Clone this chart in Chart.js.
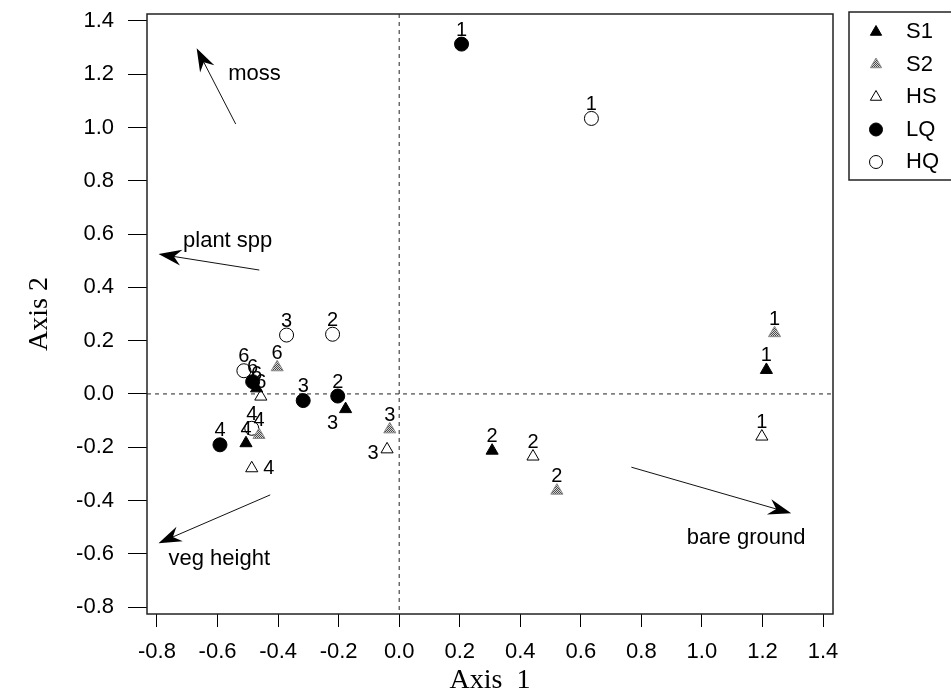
<!DOCTYPE html>
<html>
<head>
<meta charset="utf-8">
<script src="https://cdn.jsdelivr.net/npm/chart.js@4/dist/chart.umd.min.js"></script>
<style>
  body { margin: 0; background: #fff; }
  #wrap { width: 951px; height: 697px; }
</style>
</head>
<body>
<div id="wrap"><canvas id="ordination" width="951" height="697"></canvas></div>
<script>
// ordination scores (axis 1, axis 2), site number per point
const seriesNames = ['S1', 'S2', 'HS', 'LQ', 'HQ'];

const s1X = [1.213, 0.307, -0.177, -0.506, -0.471];
const s1Y = [0.090, -0.213, -0.057, -0.185, 0.021];
const s1Site = ['1', '2', '3', '4', '6'];
const s1Pos = ['above', 'above', 'belowleft', 'above', 'above'];

const s2X = [1.240, 0.521, -0.031, -0.463, -0.403];
const s2Y = [0.228, -0.363, -0.133, -0.154, 0.100];
const s2Site = ['1', '2', '3', '4', '6'];
const s2Pos = ['above', 'above', 'above', 'above', 'above'];

const hsX = [1.198, 0.442, -0.040, -0.487, -0.457];
const hsY = [-0.160, -0.235, -0.208, -0.279, -0.010];
const hsSite = ['1', '2', '3', '4', '6'];
const hsPos = ['above', 'above', 'left', 'right', 'above'];

const lqX = [0.206, -0.203, -0.317, -0.592, -0.484];
const lqY = [1.313, -0.008, -0.025, -0.191, 0.046];
const lqSite = ['1', '2', '3', '4', '6'];
const lqPos = ['above', 'above', 'above', 'above', 'above'];

const hqX = [0.635, -0.220, -0.372, -0.487, -0.513];
const hqY = [1.034, 0.224, 0.221, -0.129, 0.087];
const hqSite = ['1', '2', '3', '4', '6'];
const hqPos = ['above', 'above', 'above', 'above', 'above'];

// environmental vectors (biplot arrows)
const arrowNames = ['moss', 'plant spp', 'veg height', 'bare ground'];
const arrowFromX = [-0.540, -0.462, -0.426, 0.767];
const arrowFromY = [1.013, 0.465, -0.379, -0.275];
const arrowToX = [-0.669, -0.795, -0.795, 1.295];
const arrowToY = [1.297, 0.525, -0.560, -0.448];
const arrowTextX = [-0.565, -0.714, -0.762, 0.950];
const arrowTextY = [1.201, 0.575, -0.619, -0.542];

const xTicks = [-0.8, -0.6, -0.4, -0.2, 0.0, 0.2, 0.4, 0.6, 0.8, 1.0, 1.2, 1.4];
const yTicks = [-0.8, -0.6, -0.4, -0.2, 0.0, 0.2, 0.4, 0.6, 0.8, 1.0, 1.2, 1.4];

const SANS = '"Liberation Sans", Arial, Helvetica, sans-serif';
const SERIF = '"Liberation Serif", "Times New Roman", serif';

const canvas = document.getElementById('ordination');
const ctx0 = canvas.getContext('2d');

// grey stipple for the S2 triangles
function stipple() {
    var c = document.createElement('canvas');
    c.width = 2; c.height = 2;
    var g = c.getContext('2d');
    g.fillStyle = '#d4d4d4';
    g.fillRect(0, 0, 2, 2);
    g.fillStyle = '#4a4a4a';
    g.fillRect(0, 0, 1, 1);
    g.fillRect(1, 1, 1, 1);
    return ctx0.createPattern(c, 'repeat');
}
const s2Fill = stipple();

function pts(xs, ys) {
    return xs.map((x, i) => ({ x: x, y: ys[i] }));
}

const styles = [
    { shape: 'triangle', fill: '#000', stroke: '#000' },
    { shape: 'triangle', fill: s2Fill, stroke: '#8a8a8a' },
    { shape: 'triangle', fill: '#fff', stroke: '#000' },
    { shape: 'circle', fill: '#000', stroke: '#000' },
    { shape: 'circle', fill: '#fff', stroke: '#000' },
];

const raw = [
    [s1X, s1Y, s1Site, s1Pos],
    [s2X, s2Y, s2Site, s2Pos],
    [hsX, hsY, hsSite, hsPos],
    [lqX, lqY, lqSite, lqPos],
    [hqX, hqY, hqSite, hqPos],
];

const datasets = raw.map((r, k) => ({
    label: seriesNames[k],
    data: pts(r[0], r[1]),
    siteLabels: r[2],
    labelPos: r[3],
    pointStyle: styles[k].shape,
    backgroundColor: styles[k].fill,
    borderColor: styles[k].stroke,
    pointRadius: 7,
    borderWidth: 1,
    showLine: false,
}));

// dashed lines through the origin
const zeroLines = {
    id: 'zeroLines',
    beforeDatasetsDraw(chart) {
        const { ctx, chartArea, scales } = chart;
        const x0 = scales.x.getPixelForValue(0);
        const y0 = scales.y.getPixelForValue(0);
        ctx.save();
        ctx.strokeStyle = '#222';
        ctx.lineWidth = 1;
        ctx.setLineDash([4, 4]);
        ctx.beginPath();
        ctx.moveTo(x0, chartArea.top);
        ctx.lineTo(x0, chartArea.bottom);
        ctx.moveTo(chartArea.left, y0);
        ctx.lineTo(chartArea.right, y0);
        ctx.stroke();
        ctx.restore();
    }
};

// biplot arrows with notched heads
const arrows = {
    id: 'arrows',
    beforeDatasetsDraw(chart) {
        const { ctx, scales } = chart;
        ctx.save();
        for (var i = 0; i < arrowNames.length; i++) {
            const x1 = scales.x.getPixelForValue(arrowFromX[i]);
            const y1 = scales.y.getPixelForValue(arrowFromY[i]);
            const x2 = scales.x.getPixelForValue(arrowToX[i]);
            const y2 = scales.y.getPixelForValue(arrowToY[i]);
            const a = Math.atan2(y2 - y1, x2 - x1);
            const L = 23, W = 8;
            ctx.strokeStyle = '#111';
            ctx.lineWidth = 1;
            ctx.beginPath();
            ctx.moveTo(x1, y1);
            ctx.lineTo(x2 - Math.cos(a) * L * 0.6, y2 - Math.sin(a) * L * 0.6);
            ctx.stroke();
            ctx.save();
            ctx.translate(x2, y2);
            ctx.rotate(a);
            ctx.fillStyle = '#000';
            ctx.beginPath();
            ctx.moveTo(0, 0);
            ctx.lineTo(-L, W);
            ctx.lineTo(-L * 0.68, 0);
            ctx.lineTo(-L, -W);
            ctx.closePath();
            ctx.fill();
            ctx.restore();
            ctx.fillStyle = '#000';
            ctx.font = '22px ' + SANS;
            ctx.textAlign = 'left';
            ctx.textBaseline = 'middle';
            ctx.fillText(arrowNames[i],
                scales.x.getPixelForValue(arrowTextX[i]),
                scales.y.getPixelForValue(arrowTextY[i]));
        }
        ctx.restore();
    }
};

// site numbers next to each point
const siteLabels = {
    id: 'siteLabels',
    afterDatasetsDraw(chart) {
        const ctx = chart.ctx;
        ctx.save();
        ctx.font = '20px ' + SANS;
        ctx.fillStyle = '#000';
        ctx.textAlign = 'center';
        ctx.textBaseline = 'middle';
        chart.data.datasets.forEach((ds, di) => {
            chart.getDatasetMeta(di).data.forEach((el, i) => {
                var dx = 0, dy = -14;
                if (ds.labelPos[i] == 'belowleft') { dx = -13; dy = 14; }
                if (ds.labelPos[i] == 'left') { dx = -14; dy = 4; }
                if (ds.labelPos[i] == 'right') { dx = 17; dy = 0; }
                ctx.fillText(ds.siteLabels[i], el.x + dx, el.y + dy);
            });
        });
        ctx.restore();
    }
};

function drawSymbol(ctx, shape, x, y, r, fill, stroke) {
    ctx.beginPath();
    if (shape == 'circle') {
        ctx.arc(x, y, r, 0, Math.PI * 2);
    } else {
        ctx.moveTo(x, y - r);
        ctx.lineTo(x + r * 0.866, y + r * 0.5);
        ctx.lineTo(x - r * 0.866, y + r * 0.5);
        ctx.closePath();
    }
    ctx.fillStyle = fill;
    ctx.fill();
    ctx.strokeStyle = stroke;
    ctx.lineWidth = 1;
    ctx.stroke();
}

// plot frame and the legend box at the right edge
const frame = {
    id: 'frame',
    afterDraw(chart) {
        const { ctx, chartArea } = chart;
        ctx.save();
        ctx.strokeStyle = '#222';
        ctx.lineWidth = 1.5;
        ctx.strokeRect(chartArea.left, chartArea.top,
            chartArea.right - chartArea.left, chartArea.bottom - chartArea.top);

        ctx.strokeRect(849, 12, 140, 168);
        chart.data.datasets.forEach((ds, i) => {
            const y = 32 + i * 32.5;
            drawSymbol(ctx, ds.pointStyle, 876, y, 6.5, ds.backgroundColor, ds.borderColor);
            ctx.fillStyle = '#000';
            ctx.font = '22px ' + SANS;
            ctx.textAlign = 'left';
            ctx.textBaseline = 'middle';
            ctx.fillText(ds.label, 906, y);
        });
        ctx.restore();
    }
};

new Chart(canvas, {
    type: 'scatter',
    data: { datasets: datasets },
    options: {
        responsive: false,
        animation: false,
        events: [],
        layout: { padding: { top: 14, right: 118, bottom: 0, left: 0 } },
        plugins: {
            legend: { display: false },
            tooltip: { enabled: false },
        },
        scales: {
            x: {
                type: 'linear',
                min: -0.833,
                max: 1.433,
                afterBuildTicks: (s) => { s.ticks = xTicks.map(v => ({ value: v })); },
                afterFit: (s) => { s.height = 83; s.paddingLeft = 0; s.paddingRight = 0; },
                border: { display: false },
                grid: { drawOnChartArea: false, drawTicks: true, tickLength: 13, tickColor: '#000', tickWidth: 1 },
                ticks: {
                    color: '#000', font: { family: SANS, size: 22 }, padding: 12,
                    maxRotation: 0, autoSkip: false,
                    callback: (v) => v.toFixed(1),
                },
                title: { display: true, text: 'Axis  1', color: '#000', font: { family: SERIF, size: 28 }, padding: 0 },
            },
            y: {
                type: 'linear',
                min: -0.826,
                max: 1.426,
                afterBuildTicks: (s) => { s.ticks = yTicks.map(v => ({ value: v })); },
                afterFit: (s) => { s.width = 147; s.paddingTop = 0; s.paddingBottom = 0; },
                border: { display: false },
                grid: { drawOnChartArea: false, drawTicks: true, tickLength: 19, tickColor: '#000', tickWidth: 1 },
                ticks: {
                    color: '#000', font: { family: SANS, size: 22 }, padding: 14,
                    autoSkip: false,
                    callback: (v) => v.toFixed(1),
                },
                title: { display: true, text: 'Axis 2', color: '#000', font: { family: SERIF, size: 28 }, padding: { top: 23, bottom: 0 } },
            },
        },
    },
    plugins: [zeroLines, arrows, siteLabels, frame],
});
</script>
</body>
</html>
